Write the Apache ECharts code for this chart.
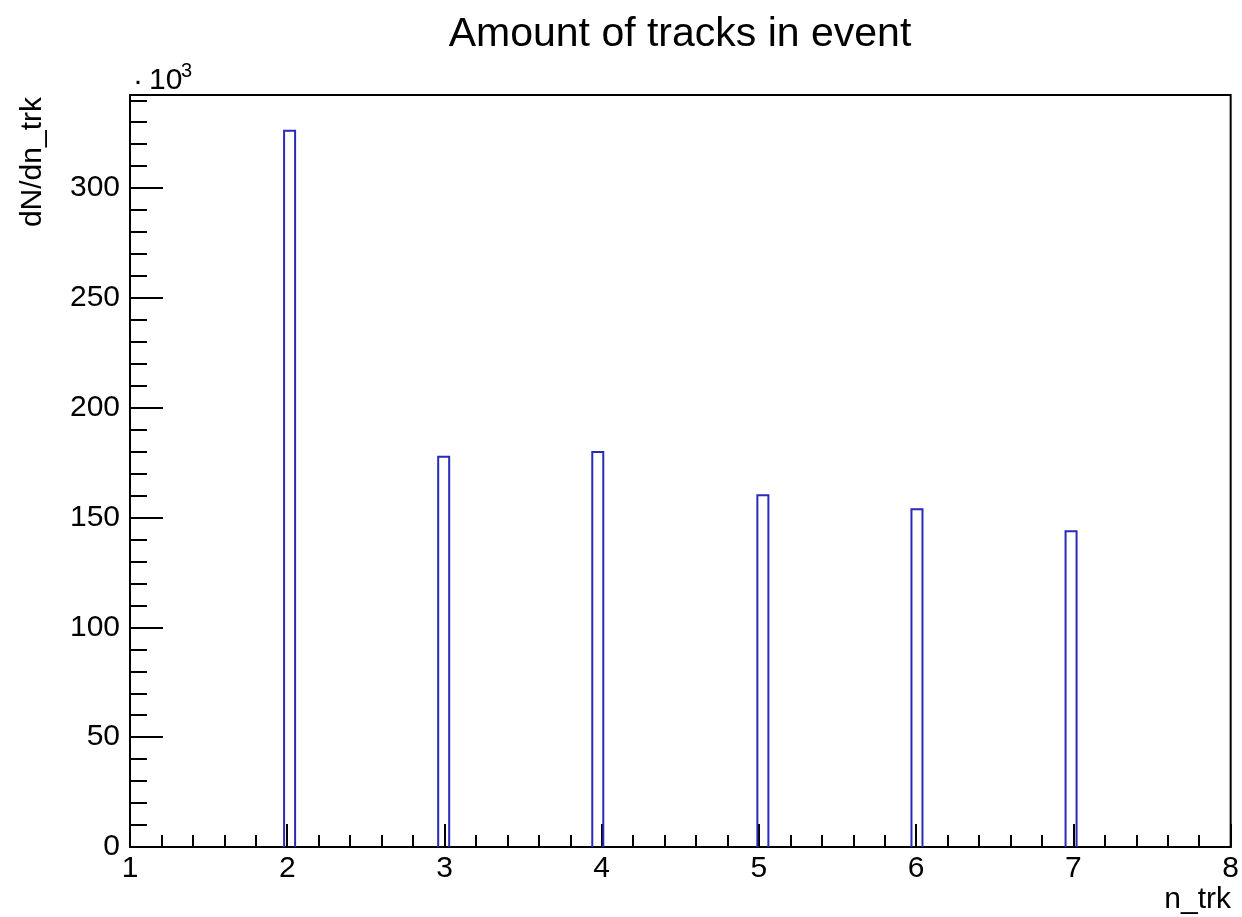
<!DOCTYPE html>
<html>
<head>
<meta charset="utf-8">
<script src="https://cdn.jsdelivr.net/npm/echarts@6/dist/echarts.min.js"></script>
<style>
html,body{margin:0;padding:0;background:#fff;}
#chart{width:1242px;height:917px;}
</style>
</head>
<body>
<div id="chart"></div>
<script>
// Histogram data (counts in units of 10^3)
const nTrk = [2, 3, 4, 5, 6, 7];
const counts = [326.1, 177.7, 179.9, 160.2, 153.8, 143.8];
// Histogram binning (ROOT TH1: 100 bins from 1 to 8)
const nBins = 100;
const xMin = 1;
const xMax = 8;
const yTickLabels = [0, 50, 100, 150, 200, 250, 300];

const binWidth = (xMax - xMin) / nBins;
const histData = nTrk.map((n, i) => {
  const idx = Math.floor((n - xMin) / binWidth + 1e-9);
  const lo = xMin + idx * binWidth;
  return [lo, lo + binWidth, counts[i]];
});
const yMax = Math.max(...counts) * 1.05;

const FONT = 'Liberation Sans';
const chart = echarts.init(document.getElementById('chart'), null, {renderer: 'canvas'});
chart.setOption({
  backgroundColor: '#ffffff',
  animation: false,
  grid: {left: 130, right: 11, top: 95, bottom: 70, containLabel: false,
         show: true, borderColor: '#000', borderWidth: 2, backgroundColor: 'transparent'},
  xAxis: {
    type: 'value', min: xMin, max: xMax, interval: 1,
    axisLine: {show: true, onZero: false, lineStyle: {color: '#000', width: 2}},
    axisTick: {show: true, inside: true, length: 23, lineStyle: {color: '#000', width: 2}},
    minorTick: {show: true, splitNumber: 5, length: 12, lineStyle: {color: '#000', width: 2}},
    splitLine: {show: false},
    axisLabel: {color: '#000', fontFamily: FONT, fontSize: 30, margin: 7}
  },
  yAxis: [{
    type: 'value', min: 0, max: yMax, interval: 50, position: 'left',
    axisLine: {show: true, onZero: false, lineStyle: {color: '#000', width: 2}},
    axisTick: {show: true, inside: true, length: 33, lineStyle: {color: '#000', width: 2}},
    splitLine: {show: false},
    axisLabel: {color: '#000', fontFamily: FONT, fontSize: 30, margin: 10,
      formatter: v => (yTickLabels.indexOf(Math.round(v * 1000) / 1000) >= 0 ? String(v) : '')}
  }, {
    type: 'value', min: 0, max: yMax, interval: 10, position: 'left', offset: 0,
    axisLine: {show: false},
    axisTick: {show: true, inside: true, length: 17, lineStyle: {color: '#000', width: 2}},
    splitLine: {show: false},
    axisLabel: {show: false}
  }],
  graphic: [
    {type: 'text', x: 680, y: 35, style: {text: 'Amount of tracks in event', fontFamily: FONT, fontSize: 41, fill: '#000', align: 'center', verticalAlign: 'middle'}},
    {type: 'text', x: 33, y: 97, rotation: Math.PI / 2, style: {text: 'dN/dn_trk', fontFamily: FONT, fontSize: 30, fill: '#000', align: 'right', verticalAlign: 'middle'}},
    {type: 'text', x: 1231, y: 900, style: {text: 'n_trk', fontFamily: FONT, fontSize: 30, fill: '#000', align: 'right', verticalAlign: 'middle'}},
    {type: 'text', x: 138, y: 82, style: {text: '·', fontFamily: FONT, fontSize: 30, fill: '#000', align: 'center', verticalAlign: 'middle'}},
    {type: 'text', x: 149, y: 81, style: {text: '10', fontFamily: FONT, fontSize: 30, fill: '#000', align: 'left', verticalAlign: 'middle'}},
    {type: 'text', x: 181, y: 71, style: {text: '3', fontFamily: FONT, fontSize: 20, fill: '#000', align: 'left', verticalAlign: 'middle'}}
  ],
  series: [{
    type: 'custom',
    xAxisIndex: 0, yAxisIndex: 0,
    data: histData,
    clip: true,
    renderItem: (params, api) => {
      const lo = api.value(0), hi = api.value(1), v = api.value(2);
      const a = api.coord([lo, 0]);
      const b = api.coord([lo, v]);
      const c = api.coord([hi, v]);
      const d = api.coord([hi, 0]);
      return {type: 'polyline', shape: {points: [a, b, c, d]},
              style: {fill: 'none', stroke: '#2a2ab8', lineWidth: 2}};
    }
  }]
});
</script>
</body>
</html>
